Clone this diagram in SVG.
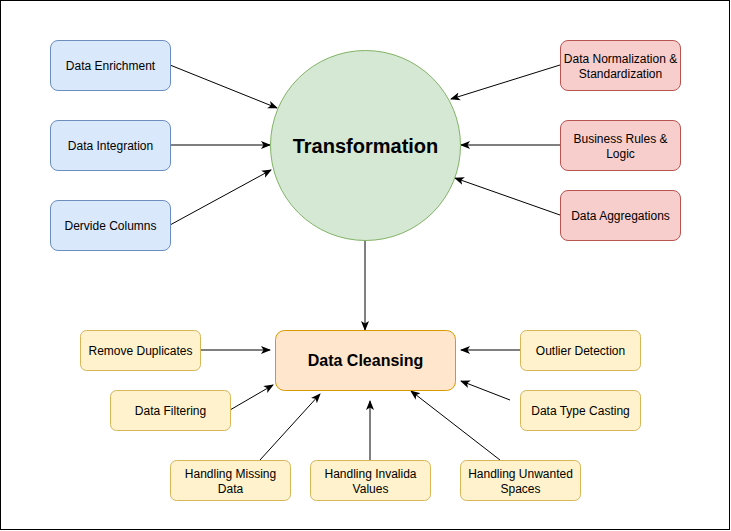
<svg xmlns="http://www.w3.org/2000/svg" width="731" height="531" viewBox="0 0 731 531">
<style>
text{font-family:"Liberation Sans",Arial,sans-serif;font-size:12px;fill:#000;text-anchor:middle;dominant-baseline:central}
.b{fill:#dae8fc;stroke:#6c8ebf}
.r{fill:#f8cecc;stroke:#b85450}
.y{fill:#fff2cc;stroke:#d6b656}
.e{stroke:#000;stroke-width:1;fill:none;marker-end:url(#ah)}
</style>
<defs>
<marker id="ah" viewBox="0 0 10 10" refX="9" refY="5" markerWidth="10" markerHeight="10" markerUnits="userSpaceOnUse" orient="auto">
<path d="M0,1 L10,5 L0,9 L2.5,5 Z" fill="#000"/>
</marker>
</defs>
<rect x="0.5" y="0.5" width="729" height="529" fill="#fff" stroke="#000"/>
<g id="connectors">
<line class="e" x1="170" y1="65" x2="277" y2="108"/>
<line class="e" x1="170" y1="145" x2="270" y2="145"/>
<line class="e" x1="170" y1="225" x2="271" y2="170"/>
<line class="e" x1="560" y1="65" x2="451" y2="99"/>
<line class="e" x1="560" y1="145" x2="461" y2="145"/>
<line class="e" x1="560" y1="215" x2="455" y2="178"/>
<line class="e" x1="365" y1="240" x2="365" y2="330"/>
<line class="e" x1="200" y1="350" x2="270" y2="350"/>
<line class="e" x1="230" y1="410" x2="273" y2="385"/>
<line class="e" x1="260" y1="460" x2="320" y2="394"/>
<line class="e" x1="370" y1="460" x2="370" y2="401"/>
<line class="e" x1="500" y1="460" x2="411" y2="391"/>
<line class="e" x1="520" y1="350" x2="461" y2="350"/>
<line class="e" x1="510" y1="400" x2="461" y2="381"/>
</g>
<g id="transformation">
<circle cx="365.5" cy="145.5" r="95" fill="#d5e8d4" stroke="#82b366"/>
<text x="365.5" y="146" style="font-size:20px;font-weight:bold">Transformation</text>
</g>
<g id="data-enrichment"><rect class="b" x="50.5" y="40.5" width="120" height="50" rx="7.5"/><text x="110.5" y="65.5">Data Enrichment</text></g>
<g id="data-integration"><rect class="b" x="50.5" y="120.5" width="120" height="50" rx="7.5"/><text x="110.5" y="145.5">Data Integration</text></g>
<g id="dervide-columns"><rect class="b" x="50.5" y="200.5" width="120" height="50" rx="7.5"/><text x="110.5" y="225.5">Dervide Columns</text></g>
<g id="data-normalization"><rect class="r" x="560.5" y="40.5" width="120" height="50" rx="7.5"/><text x="620.5" y="58.5">Data Normalization &amp;</text><text x="620.5" y="73.5">Standardization</text></g>
<g id="business-rules"><rect class="r" x="560.5" y="120.5" width="120" height="50" rx="7.5"/><text x="620.5" y="138.5">Business Rules &amp;</text><text x="620.5" y="153.5">Logic</text></g>
<g id="data-aggregations"><rect class="r" x="560.5" y="190.5" width="120" height="50" rx="7.5"/><text x="620.5" y="215.5">Data Aggregations</text></g>
<g id="data-cleansing">
<rect x="275.5" y="330.5" width="180" height="60" rx="9" fill="#ffe6cc" stroke="#d79b00"/>
<text x="365.5" y="360.5" style="font-size:16px;font-weight:bold">Data Cleansing</text>
</g>
<g id="remove-duplicates"><rect class="y" x="80.5" y="330.5" width="120" height="40" rx="6"/><text x="140.5" y="350.5">Remove Duplicates</text></g>
<g id="data-filtering"><rect class="y" x="110.5" y="390.5" width="120" height="40" rx="6"/><text x="170.5" y="410.5">Data Filtering</text></g>
<g id="handling-missing"><rect class="y" x="170.5" y="460.5" width="120" height="40" rx="6"/><text x="230.5" y="473.5">Handling Missing</text><text x="230.5" y="488.5">Data</text></g>
<g id="handling-invalida"><rect class="y" x="310.5" y="460.5" width="120" height="40" rx="6"/><text x="370.5" y="473.5">Handling Invalida</text><text x="370.5" y="488.5">Values</text></g>
<g id="handling-unwanted"><rect class="y" x="460.5" y="460.5" width="120" height="40" rx="6"/><text x="520.5" y="473.5">Handling Unwanted</text><text x="520.5" y="488.5">Spaces</text></g>
<g id="outlier-detection"><rect class="y" x="520.5" y="330.5" width="120" height="40" rx="6"/><text x="580.5" y="350.5">Outlier Detection</text></g>
<g id="data-type-casting"><rect class="y" x="520.5" y="390.5" width="120" height="40" rx="6"/><text x="580.5" y="410.5">Data Type Casting</text></g>
</svg>
